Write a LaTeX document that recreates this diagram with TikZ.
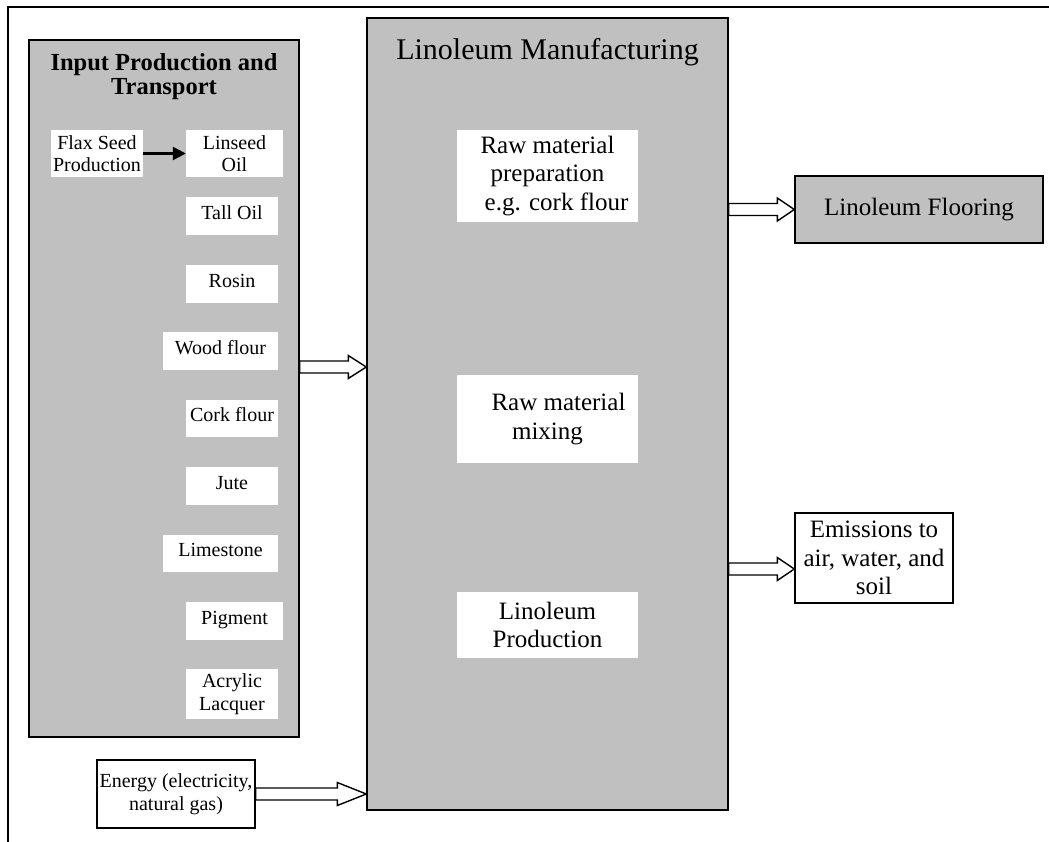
\documentclass[tikz,border=0pt]{standalone}
\usepackage{fontspec}
\setmainfont{Liberation Serif}
\usetikzlibrary{arrows.meta,calc}
\definecolor{panelgray}{HTML}{C0C0C0}

\tikzset{
  panel/.style={draw=black, line width=1.4pt, fill=panelgray, inner sep=0pt},
  item/.style={fill=white, inner sep=0pt, align=center,
    font=\fontsize{20pt}{22.5pt}\selectfont},
  itemline/.style={item, text height=14pt, text depth=7.8pt},
  stage/.style={fill=white, inner sep=0pt, minimum width=181pt, align=center,
    font=\fontsize{25pt}{28.5pt}\selectfont},
  outbox/.style={draw=black, line width=1.4pt, inner sep=0pt, align=center},
  blockarr/.style={draw=black, line width=1.4pt, fill=white, line join=miter},
}

% hollow block arrow: #1 head length, #2 start point, #3 tip point
\newcommand\blockarrow[3]{%
  \filldraw[blockarr] let \p1=#2, \p2=#3 in
    (\x1,\y2+6) -- (\x2-#1,\y2+6) -- (\x2-#1,\y2+11.5) -- (\x2,\y2)
    -- (\x2-#1,\y2-11.5) -- (\x2-#1,\y2-6) -- (\x1,\y2-6) -- cycle;}

\begin{document}
\begin{tikzpicture}[x=1pt, y=-1pt]
\useasboundingbox (0,0) rectangle (1049,842);

% page frame
\draw[line width=2pt] (8,842) -- (8,7) -- (1049,7);

% input production panel
\node[panel, minimum width=270pt, minimum height=697pt] (inp) at (164,388.5) {};
\node[font=\bfseries\fontsize{24.5pt}{24pt}\selectfont, align=center] (inptitle)
  at (164,77) {Input Production and\\Transport};

\node[item, minimum width=92pt, minimum height=47pt] (flax) at (97,153.5) {Flax Seed\\Production};
\node[item, minimum width=97pt, minimum height=47pt] (linseed) at (234.5,153.5) {Linseed\\Oil};
\node[itemline, minimum width=92pt, minimum height=38pt] (tall) at (232,216) {Tall Oil};
\node[itemline, minimum width=92pt, minimum height=38pt] (rosin) at (232,284) {Rosin};
\node[itemline, minimum width=115pt, minimum height=38pt] (wood) at (220.5,351) {Wood flour};
\node[itemline, minimum width=92pt, minimum height=37pt] (cork) at (232,418.5) {Cork flour};
\node[itemline, minimum width=92pt, minimum height=38pt] (jute) at (232,486) {Jute};
\node[itemline, minimum width=115pt, minimum height=37pt] (lime) at (220.5,553.5) {Limestone};
\node[itemline, minimum width=97pt, minimum height=38pt] (pigment) at (234.5,621) {Pigment};
\node[item, minimum width=92pt, minimum height=50pt] (acrylic) at (232,694) {Acrylic\\Lacquer};

\draw[line width=2.5pt, -{Triangle[length=13pt,width=13pt]}] (flax) -- (linseed);

% manufacturing panel
\node[panel, minimum width=361pt, minimum height=792pt] (man) at (547.5,414) {};
\node[font=\fontsize{30pt}{34pt}\selectfont] (mantitle) at (547.5,52) {Linoleum Manufacturing};

\node[stage, minimum height=92pt] (prep) at (547.5,176)
  {Raw material\\preparation\\\hspace*{18pt}e.g. cork flour};
\node[stage, minimum height=88pt] (mix) at (547.5,419)
  {\hspace*{22pt}Raw material\\mixing};
\node[stage, minimum height=66pt] (prod) at (547.5,625)
  {Linoleum\\Production};

% outputs and energy input
\node[outbox, fill=panelgray, minimum width=248pt, minimum height=67pt,
  font=\fontsize{25pt}{28.5pt}\selectfont] (floor) at (919,209.5) {Linoleum Flooring};
\node[outbox, fill=white, minimum width=158pt, minimum height=90pt,
  font=\fontsize{25pt}{28.5pt}\selectfont] (emis) at (874,558)
  {Emissions to\\air, water, and\\soil};
\node[outbox, fill=white, minimum width=158pt, minimum height=68pt,
  font=\fontsize{20pt}{23pt}\selectfont] (energy) at (176,794)
  {Energy (electricity,\\natural gas)};

% flow arrows
\coordinate (feedlvl) at (0,367);
\coordinate (emislvl) at (0,569);
\blockarrow{18}{(inp.east |- feedlvl)}{(man.west |- feedlvl)}
\blockarrow{17}{(man.east |- floor.west)}{(floor.west)}
\blockarrow{17}{(man.east |- emislvl)}{(emis.west |- emislvl)}
\blockarrow{29}{(energy.east)}{(man.west |- energy.east)}
\end{tikzpicture}
\end{document}
